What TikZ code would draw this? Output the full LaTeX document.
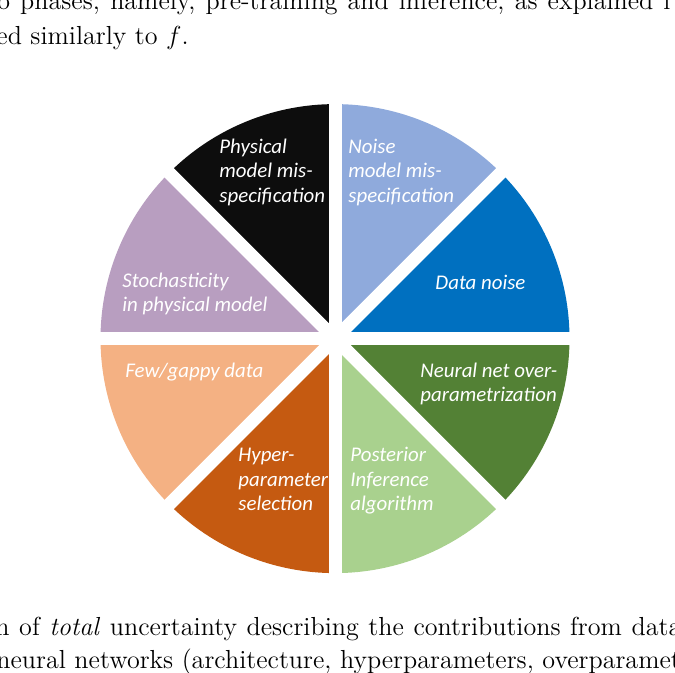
\documentclass[tikz,border=0pt]{standalone}
\usepackage{fontspec}
\newfontfamily\lblfont[ItalicFont={Carlito Italic}]{Carlito}
\definecolor{cPhys}{HTML}{0D0D0D}
\definecolor{cNoise}{HTML}{8FAADC}
\definecolor{cData}{HTML}{0070C0}
\definecolor{cNeural}{HTML}{538135}
\definecolor{cPost}{HTML}{A9D18E}
\definecolor{cHyper}{HTML}{C55A11}
\definecolor{cFew}{HTML}{F4B183}
\definecolor{cStoch}{HTML}{B89EC0}
\begin{document}
\begin{tikzpicture}[x=0.46pt,y=-0.46pt,
  body/.style={anchor=base west,inner sep=0pt,font=\fontsize{12}{14.5}\selectfont},
  lbl/.style={anchor=base west,inner sep=0pt,text=white,font=\lblfont\itshape\fontsize{9.6}{11.5}\selectfont},
  sep/.style={draw=white,line width=5.98pt}]
\useasboundingbox (0,0) rectangle (675,672);
\clip (0,0) rectangle (675,672);
\coordinate (c) at (335,338.6);
\def\R{234.5}
\foreach \a/\col in {-90/cNoise,-45/cData,0/cNeural,45/cPost,90/cHyper,135/cFew,180/cStoch,225/cPhys}{
  \fill[\col] (c) -- ++(\a:\R) arc[start angle=\a,end angle=\a+45,radius=\R] -- cycle;
}
\foreach \a in {0,45,90,135}{
  \path (c) ++(\a:240) coordinate (s1) (c) ++(\a+180:240) coordinate (s2);
  \draw[sep] (s1) -- (s2);
}
% body text
\node[body] (t1) at (-3,9.5) {\makebox[309.6pt][s]{o phases, namely, pre-training and inference, as explained i}};
\node[body] (t2) at (-4,44) {ed similarly to $f$.};
\node[body] (b1) at (-5,635) {\makebox[315.5pt][s]{n of \emph{total} uncertainty describing the contributions from data}};
\node[body] (b2) at (-4,668) {neural networks (architecture, hyperparameters, overparametri};
% labels
\node[lbl] (ph1) at (219,153) {Physical};
\node[lbl] (ph2) at (219,177.5) {model mis-};
\node[lbl] (ph3) at (219,202) {specification};
\node[lbl] (no1) at (348,153) {Noise};
\node[lbl] (no2) at (348,177.5) {model mis-};
\node[lbl] (no3) at (348,202) {specification};
\node[lbl] (da1) at (435,289) {Data noise};
\node[lbl] (st1) at (122,287) {Stochasticity};
\node[lbl] (st2) at (122,311.5) {in physical model};
\node[lbl] (fe1) at (125,377) {Few/gappy data};
\node[lbl] (ne1) at (420,377.5) {Neural net over-};
\node[lbl] (ne2) at (420,401.5) {parametrization};
\node[lbl] (hy1) at (238,461.5) {Hyper-};
\node[lbl] (hy2) at (238,486) {parameter};
\node[lbl] (hy3) at (238,510.5) {selection};
\node[lbl] (po1) at (350,461.5) {Posterior};
\node[lbl] (po2) at (350,486) {Inference};
\node[lbl] (po3) at (350,510.5) {algorithm};
\end{tikzpicture}
\end{document}
